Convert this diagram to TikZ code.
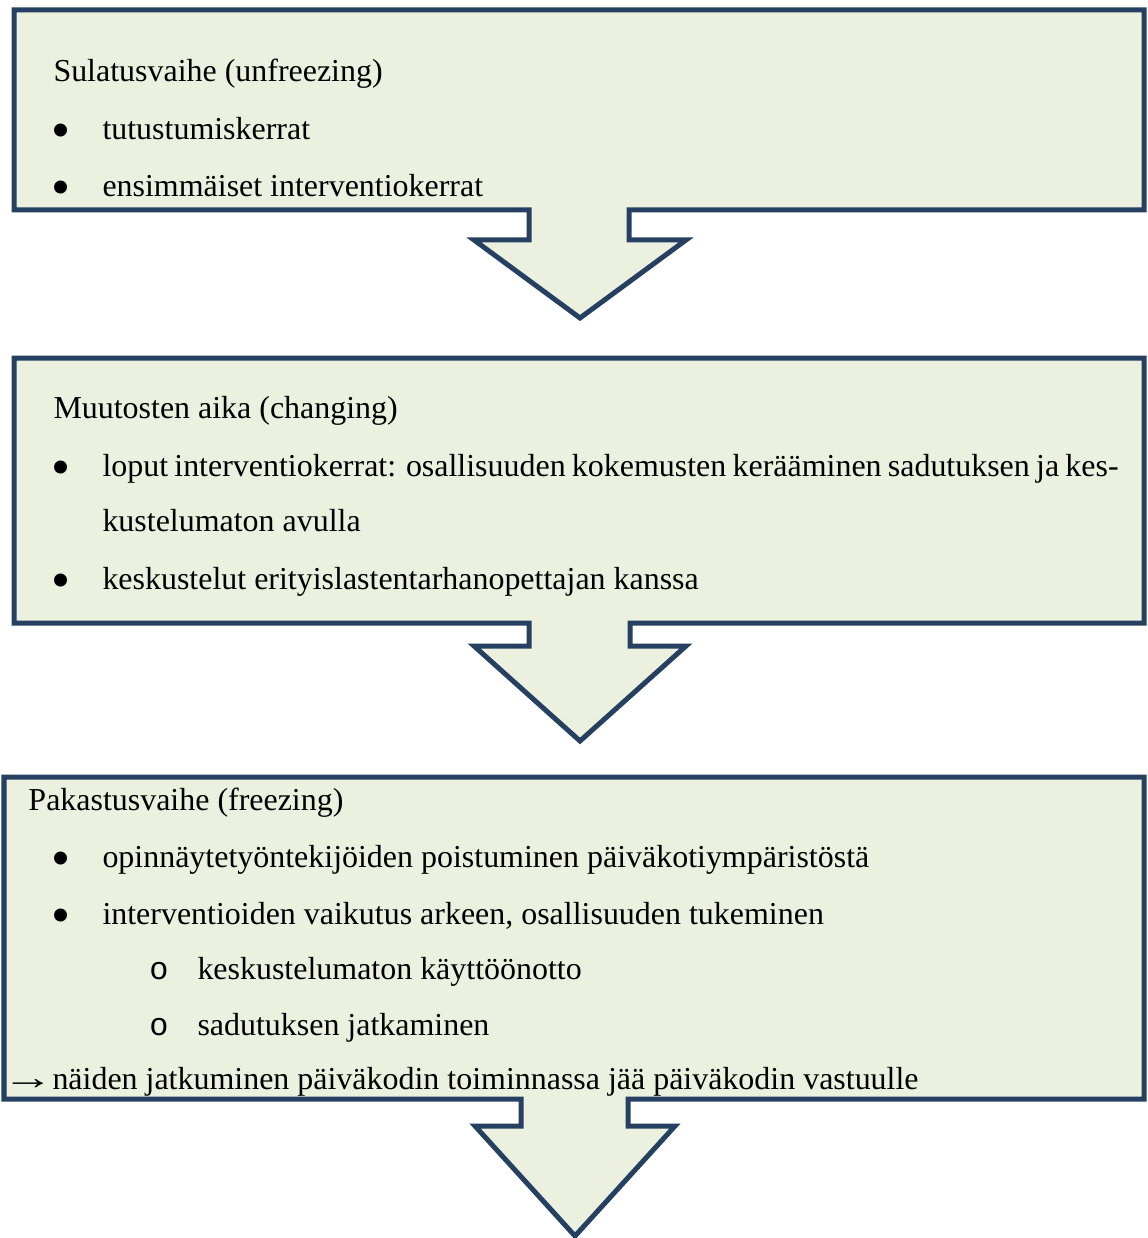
\documentclass[tikz,border=0pt]{standalone}
\usepackage{fontspec}
\setmainfont{Liberation Serif}
\newfontfamily\subdotfont{Liberation Mono}
\definecolor{stageline}{RGB}{37,64,97}
\definecolor{stagefill}{RGB}{235,241,222}
\newcommand{\bigdot}{\scalebox{1.7}{•}}
\begin{document}
\begin{tikzpicture}[x=0.4pt,y=-0.4pt,font=\fontsize{12.78}{15}\selectfont,stage/.style={draw=stageline,fill=stagefill,line width=2pt,line join=miter},txt/.style={anchor=base west,inner sep=0pt},dot/.style={anchor=base,inner sep=0pt}]
\useasboundingbox (0,0) rectangle (1147,1238);
\foreach \l/\t/\b/\sl/\sr/\wl/\wr/\hy/\tx/\ty in {14/10/210/529/629/474/686/240/580/318,14/358/623/529/630/474/686/646/580/741,4/777/1099/521/628/475/675/1126/575/1236} {\draw[stage] (\l,\t) -- (1144,\t) -- (1144,\b) -- (\sr,\b) -- (\sr,\hy) -- (\wr,\hy) -- (\tx,\ty) -- (\wl,\hy) -- (\sl,\hy) -- (\sl,\b) -- (\l,\b) -- cycle;}
% unfreezing
\node[txt] (t1) at (53,82) {Sulatusvaihe (unfreezing)};
\node[dot] (d11) at (61,149) {\bigdot}; \node[txt] (i11) at (102,140) {tutustumiskerrat};
\node[dot] (d12) at (61,206) {\bigdot}; \node[txt] (i12) at (102,197) {ensimmäiset interventiokerrat};
% changing
\node[txt] (t2) at (53,418) {Muutosten aika (changing)};
\node[dot] (d21) at (61,485) {\bigdot}; \node[txt] (i21) at (102,476) {\hbox to 406.4pt{loput interventiokerrat: osallisuuden kokemusten kerääminen sadutuksen ja kes-}};
\node[txt] (i21b) at (102,531) {kustelumaton avulla};
\node[dot] (d22) at (61,598) {\bigdot}; \node[txt] (i22) at (102,589) {keskustelut erityislastentarhanopettajan kanssa};
% freezing
\node[txt] (t3) at (28,810) {Pakastusvaihe (freezing)};
\node[dot] (d31) at (61,876) {\bigdot}; \node[txt] (i31) at (102,867) {opinnäytetyöntekijöiden poistuminen päiväkotiympäristöstä};
\node[dot] (d32) at (61,933) {\bigdot}; \node[txt] (i32) at (102,924) {interventioiden vaikutus arkeen, osallisuuden tukeminen};
\node[dot] (d33) at (159,979) {\subdotfont o}; \node[txt] (i33) at (197,979) {keskustelumaton käyttöönotto};
\node[dot] (d34) at (159,1035) {\subdotfont o}; \node[txt] (i34) at (197,1035) {sadutuksen jatkaminen};
\node[dot] (a3) at (28,1089) {\scalebox{1.6}[1.1]{→}}; \node[txt] (n3) at (52,1089) {näiden jatkuminen päiväkodin toiminnassa jää päiväkodin vastuulle};
\end{tikzpicture}
\end{document}
